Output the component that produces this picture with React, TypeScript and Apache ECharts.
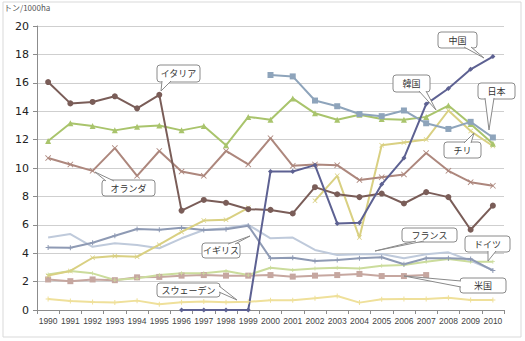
import React, { useEffect, useRef } from "react";
import * as echarts from "echarts";

const years = ["1990","1991","1992","1993","1994","1995","1996","1997","1998","1999","2000","2001","2002","2003","2004","2005","2006","2007","2008","2009","2010"];

const italy = [16.05, 14.55, 14.65, 15.05, 14.2, 15.15, 7.0, 7.75, 7.55, 7.1, 7.05, 6.8, 8.65, 8.15, 7.95, 8.2, 7.5, 8.3, 7.95, 5.65, 7.35];
const netherlands = [10.7, 10.25, 9.8, 11.4, 9.45, 11.2, 9.75, 9.45, 11.2, 10.25, 12.1, 10.15, 10.25, 10.2, 9.15, 9.35, 9.55, 11.05, 9.8, 9.0, 8.75];
const korea = [11.9, 13.15, 12.95, 12.65, 12.9, 13.0, 12.65, 12.95, 11.6, 13.6, 13.4, 14.9, 13.85, 13.4, 13.75, 13.45, 13.4, 13.6, 14.4, 13.1, 11.7];
const japan = [null, null, null, null, null, null, null, null, null, null, 16.55, 16.45, 14.75, 14.35, 13.8, 13.65, 14.05, 13.15, 12.75, 13.25, 12.15];
const china = [null, null, null, null, null, null, 0, 0, 0, 0, 9.75, 9.75, 10.2, 6.1, 6.15, 8.85, 10.7, 14.5, 15.6, 16.95, 17.85];
const chile = [2.42, 2.75, 3.68, 3.8, 3.75, 4.6, 5.5, 6.3, 6.35, 7.2, null, null, 7.7, 9.45, 5.1, 11.6, 11.8, 12.0, 14.05, 12.6, 11.55];
const france = [5.1, 5.35, 4.45, 4.7, 4.58, 4.35, 5.05, 5.63, 5.75, 6.0, 5.05, 5.1, 4.23, 3.87, 3.92, 3.95, 3.64, 3.92, 4.06, 3.47, 2.82];
const uk = [4.4, 4.38, 4.74, 5.23, 5.7, 5.65, 5.8, 5.63, 5.68, 5.94, 3.64, 3.68, 3.45, 3.52, 3.64, 3.71, 3.22, 3.64, 3.64, 3.6, 2.78];
const germany = [2.5, 2.75, 2.58, 2.11, 2.23, 2.46, 2.58, 2.58, 2.75, 2.46, 2.98, 2.82, 2.93, 2.98, 2.93, 3.12, 3.17, 3.4, 3.59, 3.4, 3.4];
const usa = [2.15, 2.03, 2.15, 2.1, 2.3, 2.33, 2.42, 2.46, 2.42, 2.42, 2.46, 2.35, 2.42, 2.46, 2.54, 2.39, 2.39, 2.46, null, null, null];
const sweden = [0.77, 0.63, 0.56, 0.52, 0.66, 0.4, 0.54, 0.59, 0.54, 0.58, 0.68, 0.68, 0.82, 0.98, 0.52, 0.75, 0.77, 0.77, 0.87, 0.7, 0.7];

const yTicks = [0, 20, 2]; // min, max, interval

const X_SYM = "path://M1,0L5,4L9,0L10,1L6,5L10,9L9,10L5,6L1,10L0,9L4,5L0,1Z";
const PLUS_SYM = "path://M4,0H6V4H10V6H6V10H4V6H0V4H4Z";

type Callout = { text: string; box: number[]; base: number[][]; tip: number[] };
const callouts: Callout[] = [
  { text: "イタリア", box: [157, 65, 43, 17], base: [[162, 81], [171, 81]], tip: [161, 91] },
  { text: "オランダ", box: [102, 180, 53, 16], base: [[106, 181], [114, 181]], tip: [95, 172] },
  { text: "中国", box: [438, 32, 39, 16], base: [[464, 47], [471, 47]], tip: [484, 58] },
  { text: "韓国", box: [393, 75, 37, 17], base: [[419, 91], [426, 91]], tip: [436, 110] },
  { text: "日本", box: [478, 83, 37, 16], base: [[485, 98], [494, 98]], tip: [489, 130] },
  { text: "チリ", box: [444, 142, 37, 16], base: [[464, 143], [471, 143]], tip: [474, 133] },
  { text: "フランス", box: [402, 228, 55, 14], base: [[416, 241], [424, 241]], tip: [375, 251] },
  { text: "ドイツ", box: [465, 236, 45, 16], base: [[488, 251], [496, 251]], tip: [488, 261] },
  { text: "米国", box: [460, 278, 46, 15], base: [[461, 281], [461, 287]], tip: [404, 276] },
  { text: "イギリス", box: [202, 243, 38, 15], base: [[228, 244], [235, 244]], tip: [250, 236] },
  { text: "スウェーデン", box: [157, 283, 63, 14], base: [[219, 286], [219, 292]], tip: [237, 300] },
];

function mkSeries(name: string, data: (number | null)[], color: string, symbol: string, size: number, z = 2, width = 2) {
  return {
    name,
    type: "line",
    data,
    symbol,
    symbolSize: size,
    showSymbol: symbol !== "none",
    connectNulls: false,
    z,
    lineStyle: { color, width },
    itemStyle: { color, borderWidth: 0 },
    emphasis: { disabled: true },
  };
}

export default function App() {
  const ref = useRef<HTMLDivElement>(null);
  useEffect(() => {
    if (!ref.current) return;
    const chart = echarts.init(ref.current, null, { renderer: "svg" });
    const graphics: any[] = [];
    graphics.push({
      type: "rect", shape: { x: 3, y: 2, width: 518, height: 335 },
      style: { fill: "none", stroke: "#d9d9d9", lineWidth: 1 }, z: 0, silent: true,
    });
    graphics.push({
      type: "text", x: 4, y: 3,
      style: { text: "トン/1000ha", fontSize: 8, fill: "#555", fontFamily: "Noto Sans CJK JP" }, z: 20,
    });
    callouts.forEach((c) => {
      const [bx, by, bw, bh] = c.box;
      graphics.push({
        type: "rect", shape: { x: bx, y: by, width: bw, height: bh, r: 3 },
        style: { fill: "#fff", stroke: "#8a8a8a", lineWidth: 1 }, z: 30,
      });
      graphics.push({
        type: "polygon", shape: { points: [c.base[0], c.tip, c.base[1]] },
        style: { fill: "#fff", stroke: "none" }, z: 31,
      });
      graphics.push({
        type: "polyline", shape: { points: [c.base[0], c.tip, c.base[1]] },
        style: { fill: "none", stroke: "#8a8a8a", lineWidth: 1 }, z: 32,
      });
      graphics.push({
        type: "text", x: bx + bw / 2, y: by + bh / 2,
        style: { text: c.text, fontSize: 9, fill: "#333", fontFamily: "Noto Sans CJK JP", align: "center", verticalAlign: "middle" },
        z: 33,
      });
    });

    chart.setOption({
      animation: false,
      backgroundColor: "#fff",
      grid: { left: 37, right: 21, top: 26, bottom: 31, containLabel: false },
      xAxis: {
        type: "category",
        data: years,
        boundaryGap: true,
        axisLine: { lineStyle: { color: "#8c8c8c", width: 1 } },
        axisTick: { show: true, length: 4, lineStyle: { color: "#8c8c8c" } },
        axisLabel: { fontSize: 8.5, color: "#444", margin: 6, interval: 0, fontFamily: "Liberation Sans Narrow, Liberation Sans, sans-serif" },
        splitLine: { show: false },
      },
      yAxis: {
        type: "value",
        min: yTicks[0],
        max: yTicks[1],
        interval: yTicks[2],
        axisLine: { show: true, lineStyle: { color: "#8c8c8c", width: 1 } },
        axisTick: { show: true, length: 4, lineStyle: { color: "#8c8c8c" } },
        axisLabel: { fontSize: 11, color: "#222", margin: 8, fontFamily: "DejaVu Sans, sans-serif" },
        splitLine: { lineStyle: { color: "#cfcfcf", width: 1 } },
      },
      series: [
        mkSeries("スウェーデン", sweden, "#efe09a", PLUS_SYM, 5),
        mkSeries("米国", usa, "#c6a7a0", "rect", 6),
        mkSeries("ドイツ", germany, "#cbdc9c", PLUS_SYM, 4),
        mkSeries("フランス", france, "#bfcadb", "none", 0),
        mkSeries("イギリス", uk, "#8e9ab4", PLUS_SYM, 5),
        mkSeries("チリ", chile, "#d9d082", X_SYM, 5),
        mkSeries("オランダ", netherlands, "#ad877d", X_SYM, 6),
        mkSeries("韓国", korea, "#a9c46c", "triangle", 6),
        mkSeries("日本", japan, "#8ea4bb", "rect", 6),
        mkSeries("イタリア", italy, "#7a5d58", "circle", 6),
        mkSeries("中国", china, "#5d6192", "diamond", 5),
      ],
      graphic: graphics,
    });
    return () => chart.dispose();
  }, []);
  return <div ref={ref} style={{ width: 525, height: 341, position: "absolute", left: 0, top: 0 }} />;
}
